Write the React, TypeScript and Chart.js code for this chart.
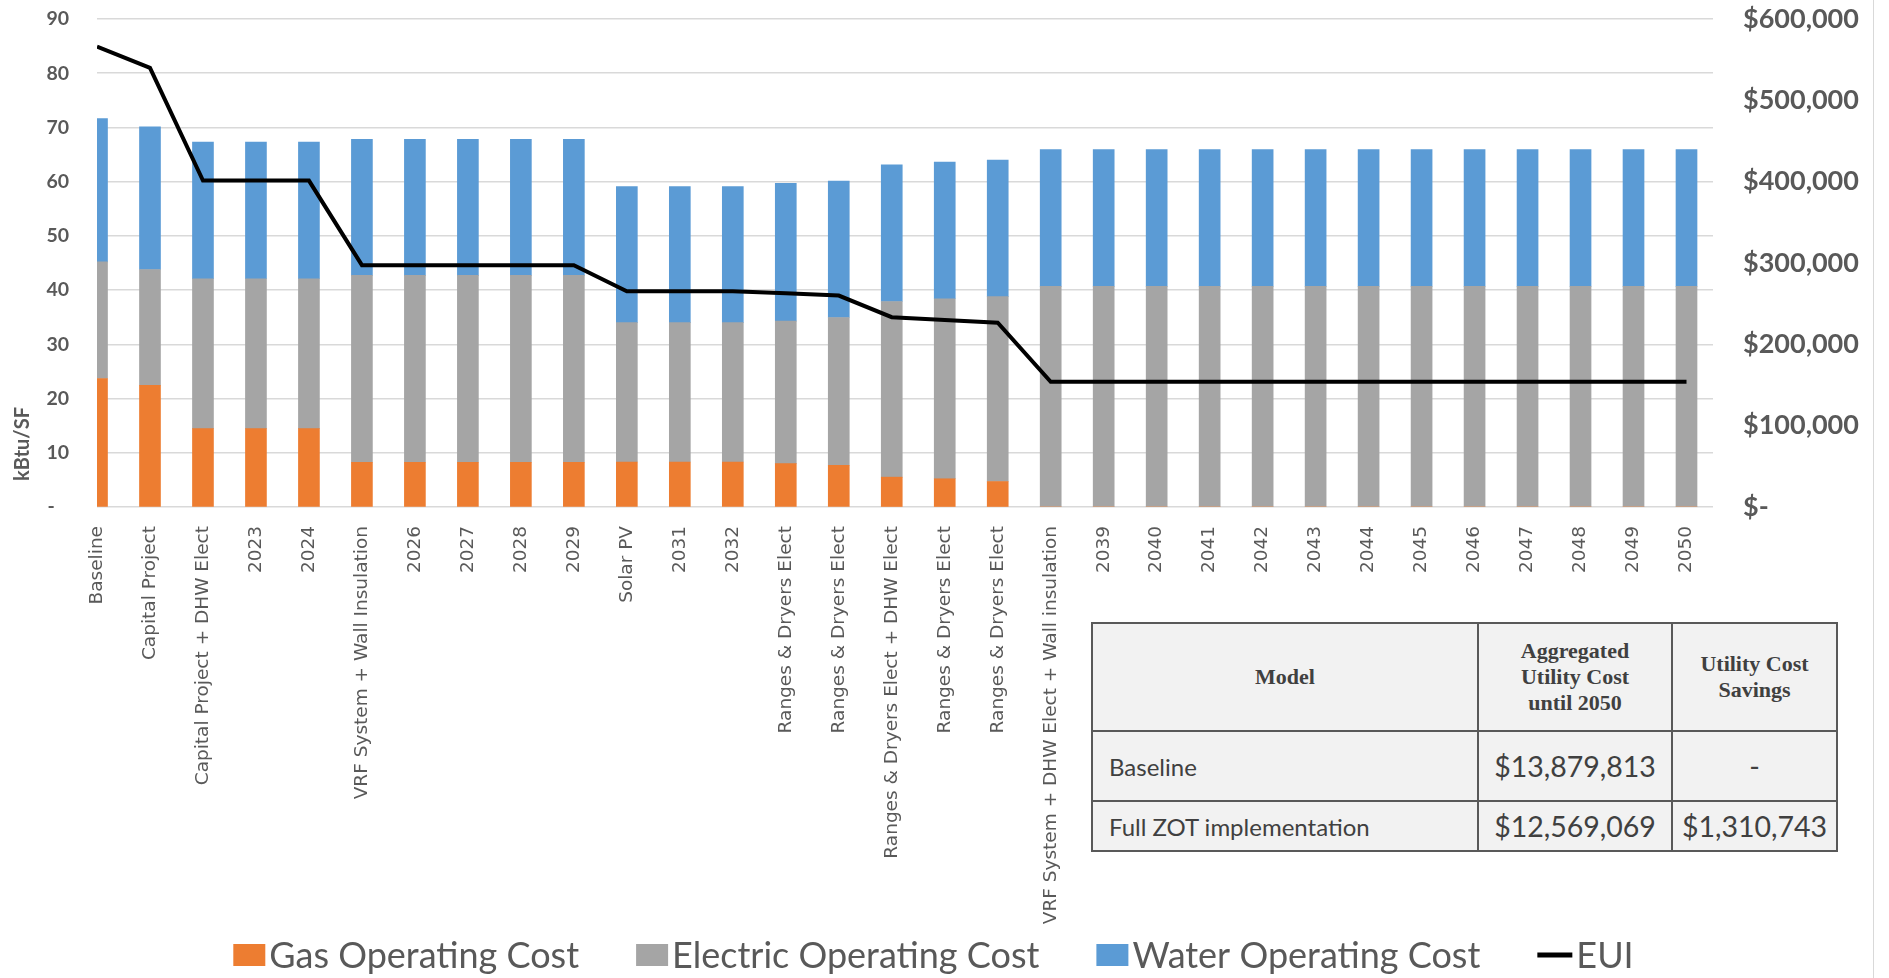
import React, { useEffect, useRef } from 'react';
import { Chart, registerables } from 'chart.js';

Chart.register(...registerables);

// ---------- data ----------
const categories: string[] = [
  'Baseline',
  'Capital Project',
  'Capital Project + DHW Elect',
  '2023',
  '2024',
  'VRF System + Wall Insulation',
  '2026',
  '2027',
  '2028',
  '2029',
  'Solar PV',
  '2031',
  '2032',
  'Ranges & Dryers Elect',
  'Ranges & Dryers Elect',
  'Ranges & Dryers Elect + DHW Elect',
  'Ranges & Dryers Elect',
  'Ranges & Dryers Elect',
  'VRF System + DHW Elect + Wall insulation',
  '2039',
  '2040',
  '2041',
  '2042',
  '2043',
  '2044',
  '2045',
  '2046',
  '2047',
  '2048',
  '2049',
  '2050',
];

const gasCost: number[] = [
  158000, 149700, 96300, 96300, 96300, 55000, 55000, 55000, 55000, 55000,
  55300, 55300, 55300, 53300, 51300, 36700, 34700, 31300, 0, 0,
  0, 0, 0, 0, 0, 0, 0, 0, 0, 0, 0,
];

const electricCost: number[] = [
  143300, 142300, 184300, 184300, 184300, 229700, 229700, 229700, 229700, 229700,
  171300, 171300, 171300, 175300, 181700, 216000, 221300, 227300, 271300, 271300,
  271300, 271300, 271300, 271300, 271300, 271300, 271300, 271300, 271300, 271300, 271300,
];

const waterCost: number[] = [
  176300, 175300, 168000, 168000, 168000, 167300, 167300, 167300, 167300, 167300,
  167300, 167300, 167300, 169300, 167700, 168000, 168000, 168000, 168000, 168000,
  168000, 168000, 168000, 168000, 168000, 168000, 168000, 168000, 168000, 168000, 168000,
];

const eui: number[] = [
  84.9, 81.0, 60.2, 60.2, 60.2, 44.6, 44.6, 44.6, 44.6, 44.6,
  39.8, 39.8, 39.8, 39.4, 39.0, 35.0, 34.5, 34.0, 23.1, 23.1,
  23.1, 23.1, 23.1, 23.1, 23.1, 23.1, 23.1, 23.1, 23.1, 23.1, 23.1,
];

const seriesNames = ['Gas Operating Cost', 'Electric Operating Cost', 'Water Operating Cost', 'EUI'];
const yAxisTitle = 'kBtu/SF';

const tableHeader = ['Model', ['Aggregated', 'Utility Cost', 'until 2050'], ['Utility Cost', 'Savings']];
const tableRows: string[][] = [
  ['Baseline', '$13,879,813', '-'],
  ['Full ZOT implementation', '$12,569,069', '$1,310,743'],
];

// ---------- styles ----------
const COLORS = {
  gas: '#ED7D31',
  electric: '#A5A5A5',
  water: '#5B9BD5',
  eui: '#000000',
  grid: '#D9D9D9',
  text: '#595959',
};

const yTitlePlugin = {
  id: 'yTitle',
  afterDraw(chart: any) {
    const ctx = chart.ctx;
    ctx.save();
    ctx.translate(23, 444);
    ctx.rotate(-Math.PI / 2);
    ctx.font = 'bold 20px Lato';
    ctx.fillStyle = COLORS.text;
    ctx.textAlign = 'center';
    ctx.textBaseline = 'middle';
    ctx.fillText(yAxisTitle, 0, 0);
    ctx.restore();
  },
};

// Excel-style legend: small gap between key and text, wide gap between items
const legendPlugin = {
  id: 'excelLegend',
  afterDraw(chart: any) {
    const ctx = chart.ctx;
    const font = '36px Lato';
    const keyW = 32;
    const keyH = 22;
    const lineKeyW = 35;
    const gapText = 4;
    const gapItem = 57;
    const cy = 955;
    ctx.save();
    ctx.font = font;
    const items = chart.data.datasets.map((ds: any) => ({
      label: ds.label as string,
      isLine: ds.type === 'line',
      color: ds.type === 'line' ? ds.borderColor : ds.backgroundColor,
    }));
    const widths = items.map(
      (it: any) => (it.isLine ? lineKeyW : keyW) + gapText + ctx.measureText(it.label).width
    );
    const total = widths.reduce((a: number, b: number) => a + b, 0) + gapItem * (items.length - 1);
    let x = chart.width / 2 - total / 2 - 3;
    items.forEach((it: any) => {
      if (it.isLine) {
        ctx.strokeStyle = it.color;
        ctx.lineWidth = 5;
        ctx.beginPath();
        ctx.moveTo(x, cy);
        ctx.lineTo(x + lineKeyW, cy);
        ctx.stroke();
        x += lineKeyW;
      } else {
        ctx.fillStyle = it.color;
        ctx.fillRect(x, cy - keyH / 2, keyW, keyH);
        x += keyW;
      }
      x += gapText;
      ctx.fillStyle = COLORS.text;
      ctx.textAlign = 'left';
      ctx.textBaseline = 'middle';
      ctx.fillText(it.label, x, cy + 1);
      x += ctx.measureText(it.label).width + gapItem;
    });
    ctx.restore();
  },
};

export default function App() {
  const canvasRef = useRef<HTMLCanvasElement>(null);

  useEffect(() => {
    const canvas = canvasRef.current;
    if (!canvas) return;
    const toXY = (arr: number[]) => arr.map((y, i) => ({ x: i, y }));

    const chart = new Chart(canvas, {
      type: 'bar',
      data: {
        datasets: [
          {
            type: 'bar',
            label: seriesNames[0],
            data: toXY(gasCost),
            backgroundColor: COLORS.gas,
            yAxisID: 'y2',
            stack: 'cost',
            barThickness: 21,
            clip: 0,
          },
          {
            type: 'bar',
            label: seriesNames[1],
            data: toXY(electricCost),
            backgroundColor: COLORS.electric,
            yAxisID: 'y2',
            stack: 'cost',
            barThickness: 21,
            clip: 0,
          },
          {
            type: 'bar',
            label: seriesNames[2],
            data: toXY(waterCost),
            backgroundColor: COLORS.water,
            yAxisID: 'y2',
            stack: 'cost',
            barThickness: 21,
            clip: 0,
          },
          {
            type: 'line',
            label: seriesNames[3],
            data: toXY(eui),
            borderColor: COLORS.eui,
            backgroundColor: COLORS.eui,
            borderWidth: 4,
            pointRadius: 0,
            tension: 0,
            yAxisID: 'y',
            order: -1,
          },
        ] as any,
      },
      options: {
        responsive: false,
        animation: false,
        layout: { padding: { top: 19, left: 0, right: 0, bottom: 3 } },
        scales: {
          x: {
            type: 'linear',
            min: 0,
            max: 30.5,
            offset: false,
            stacked: true,
            grid: { display: false, offset: false },
            border: { display: false },
            afterBuildTicks: (axis: any) => {
              axis.ticks = categories.map((_, i) => ({ value: i }));
            },
            afterFit: (s: any) => {
              s.height = 468;
            },
            ticks: {
              autoSkip: false,
              maxRotation: 90,
              minRotation: 90,
              padding: 11,
              color: COLORS.text,
              font: { family: 'DejaVu Sans', size: 18.5 },
              callback: (v: any) => categories[v] ?? '',
            },
          },
          y: {
            position: 'left',
            min: 0,
            max: 90,
            grid: {
              color: COLORS.grid,
              lineWidth: 1.5,
              drawTicks: true,
              tickLength: 28,
              tickColor: 'rgba(0,0,0,0)',
            },
            border: { display: false },
            afterFit: (s: any) => {
              s.width = 97;
            },
            ticks: {
              stepSize: 10,
              padding: 0,
              color: COLORS.text,
              font: { family: 'Lato', size: 19.5, weight: 'bold' },
              callback: (v: any) => (v === 0 ? '-   ' : String(v)),
            },
          },
          y2: {
            position: 'right',
            min: 0,
            max: 600000,
            stacked: true,
            grid: {
              display: true,
              drawOnChartArea: false,
              color: 'rgba(0,0,0,0)',
              drawTicks: true,
              tickLength: 30,
              tickColor: 'rgba(0,0,0,0)',
            },
            border: { display: false },
            afterFit: (s: any) => {
              s.width = 160;
            },
            ticks: {
              stepSize: 100000,
              padding: 0,
              color: COLORS.text,
              font: { family: 'Lato', size: 27, weight: 'bold' },
              callback: (v: any) => (v === 0 ? '$-' : '$' + Number(v).toLocaleString('en-US')),
            },
          },
        },
        plugins: {
          legend: { display: false },
          tooltip: { enabled: false },
        },
      } as any,
      plugins: [yTitlePlugin, legendPlugin],
    });
    return () => chart.destroy();
  }, []);

  const cellBorder = '2px solid #595959';
  const headStyle: React.CSSProperties = {
    border: cellBorder,
    fontFamily: '"Liberation Serif", serif',
    fontWeight: 'bold',
    fontSize: 22,
    lineHeight: '26px',
    textAlign: 'center',
    verticalAlign: 'middle',
    padding: 0,
  };
  const bodyStyle: React.CSSProperties = {
    border: cellBorder,
    fontFamily: 'Lato, sans-serif',
    fontSize: 25,
    textAlign: 'center',
    verticalAlign: 'middle',
    padding: 0,
  };

  return (
    <div
      style={{
        position: 'fixed',
        left: 0,
        top: 0,
        width: 1874,
        height: 978,
        boxSizing: 'border-box',
        borderRight: '1px solid #D9D9D9',
        background: '#fff',
      }}
    >
      <canvas ref={canvasRef} width={1873} height={978} style={{ display: 'block' }} />
      <table
        style={{
          position: 'absolute',
          left: 1091,
          top: 622,
          width: 745,
          height: 228,
          borderCollapse: 'collapse',
          background: '#F2F2F2',
          color: '#404040',
          tableLayout: 'fixed',
        }}
      >
        <colgroup>
          <col style={{ width: 386 }} />
          <col style={{ width: 194 }} />
          <col style={{ width: 165 }} />
        </colgroup>
        <tbody>
          <tr style={{ height: 108 }}>
            {tableHeader.map((h, i) => (
              <th key={i} style={headStyle}>
                {Array.isArray(h)
                  ? h.map((line, j) => (
                      <React.Fragment key={j}>
                        {line}
                        {j < h.length - 1 ? <br /> : null}
                      </React.Fragment>
                    ))
                  : h}
              </th>
            ))}
          </tr>
          {tableRows.map((row, r) => (
            <tr key={r} style={{ height: r === 0 ? 70 : 50 }}>
              {row.map((c, i) => (
                <td
                  key={i}
                  style={{
                    ...bodyStyle,
                    textAlign: i === 0 ? 'left' : 'center',
                    paddingLeft: i === 0 ? 16 : 0,
                    fontSize: i === 0 ? 24 : 28.5,
                  }}
                >
                  {c}
                </td>
              ))}
            </tr>
          ))}
        </tbody>
      </table>
    </div>
  );
}
